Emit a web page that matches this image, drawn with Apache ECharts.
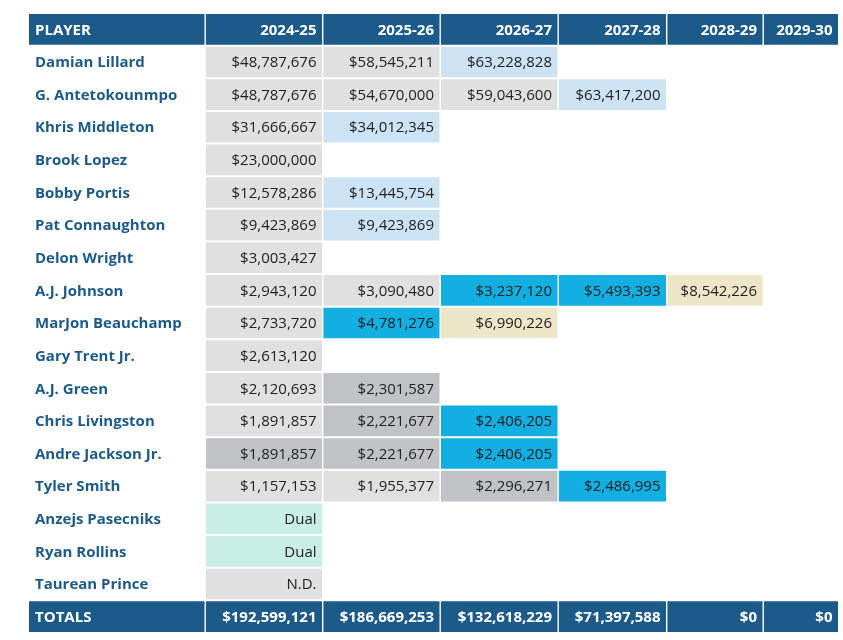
<!DOCTYPE html>
<html>
<head>
<meta charset="utf-8">
<script src="https://cdn.jsdelivr.net/npm/echarts@6/dist/echarts.min.js"></script>
<style>html,body{margin:0;padding:0;background:#fff}#c{width:843px;height:640px}</style>
</head>
<body>
<div id="c"></div>
<script>
// ---------- DATA ----------
var headerFirst = 'PLAYER';
var seasons = ['2024-25', '2025-26', '2026-27', '2027-28', '2028-29', '2029-30'];
var players = ['Damian Lillard', 'G. Antetokounmpo', 'Khris Middleton', 'Brook Lopez', 'Bobby Portis',
  'Pat Connaughton', 'Delon Wright', 'A.J. Johnson', 'MarJon Beauchamp', 'Gary Trent Jr.', 'A.J. Green',
  'Chris Livingston', 'Andre Jackson Jr.', 'Tyler Smith', 'Anzejs Pasecniks', 'Ryan Rollins', 'Taurean Prince'];
var totalsLabel = 'TOTALS';

var sal2024 = [48787676, 48787676, 31666667, 23000000, 12578286, 9423869, 3003427, 2943120, 2733720, 2613120, 2120693, 1891857, 1891857, 1157153, 'Dual', 'Dual', 'N.D.'];
var sal2025 = [58545211, 54670000, 34012345, null, 13445754, 9423869, null, 3090480, 4781276, null, 2301587, 2221677, 2221677, 1955377, null, null, null];
var sal2026 = [63228828, 59043600, null, null, null, null, null, 3237120, 6990226, null, null, 2406205, 2406205, 2296271, null, null, null];
var sal2027 = [null, 63417200, null, null, null, null, null, 5493393, null, null, null, null, null, 2486995, null, null, null];
var sal2028 = [null, null, null, null, null, null, null, 8542226, null, null, null, null, null, null, null, null, null];
var sal2029 = [null, null, null, null, null, null, null, null, null, null, null, null, null, null, null, null, null];

// contract status codes: g guaranteed, n non-guaranteed, p player option, r rookie scale/QO, t team option, d two-way
var st2024 = ['g','g','g','g','g','g','g','g','g','g','g','g','n','g','d','d','g'];
var st2025 = ['g','g','p',null,'p','p',null,'g','r',null,'n','n','n','g',null,null,null];
var st2026 = ['p','g',null,null,null,null,null,'r','t',null,null,'r','r','n',null,null,null];
var st2027 = [null,'p',null,null,null,null,null,'r',null,null,null,null,null,'r',null,null,null];
var st2028 = [null,null,null,null,null,null,null,'t',null,null,null,null,null,null,null,null,null];
var st2029 = [null,null,null,null,null,null,null,null,null,null,null,null,null,null,null,null,null];

var totals = [192599121, 186669253, 132618229, 71397588, 0, 0];

// ---------- LAYOUT / STYLE ----------
var colWidths = [175.5, 117.5, 117.5, 118, 108.5, 96.5, 75.5];
var edges = [0];
colWidths.forEach(function (w) { edges.push(edges[edges.length - 1] + w); });
var GAP = 1.4;
var NAVY = '#1c5a8a';
var statusColor = { g: '#dfe0df', n: '#c1c2c5', p: '#cde3f3', r: '#13afe2', t: '#eee6c8', d: '#c9efe5' };
var FONT = '"Open Sans", "DejaVu Sans", sans-serif';

var salCols = [sal2024, sal2025, sal2026, sal2027, sal2028, sal2029];
var stCols = [st2024, st2025, st2026, st2027, st2028, st2029];

function fmt(v) { return typeof v === 'number' ? '$' + v.toLocaleString('en-US') : v; }

var rowsCat = [headerFirst].concat(players).concat([totalsLabel]);
var cells = [];
cells.push([0, 0, headerFirst, 'hdr']);
seasons.forEach(function (s, i) { cells.push([i + 1, 0, s, 'hdr']); });
players.forEach(function (p, r) {
  cells.push([0, r + 1, p, 'name']);
  salCols.forEach(function (col, c) {
    if (col[r] !== null && col[r] !== undefined) {
      cells.push([c + 1, r + 1, fmt(col[r]), stCols[c][r]]);
    }
  });
});
var lastRow = players.length + 1;
cells.push([0, lastRow, totalsLabel, 'hdr']);
totals.forEach(function (t, i) { cells.push([i + 1, lastRow, fmt(t), 'hdr']); });

var chart = echarts.init(document.getElementById('c'), null, { renderer: 'canvas' });
chart.setOption({
  animation: false,
  grid: { left: 29, right: 5, top: 13, bottom: 7, containLabel: false },
  xAxis: { type: 'value', min: 0, max: edges[edges.length - 1], show: false },
  yAxis: { type: 'category', data: rowsCat, inverse: true, show: false },
  series: [{
    type: 'custom',
    silent: true,
    data: cells,
    encode: { x: 0, y: 1 },
    renderItem: function (params, api) {
      var c = api.value(0), r = api.value(1);
      var item = cells[params.dataIndex];
      var text = item[2], kind = item[3];
      var band = api.size([0, 1])[1];
      var cy = api.coord([0, r])[1];
      var x0 = api.coord([edges[c], r])[0] + (c > 0 ? GAP : 0);
      var x1 = api.coord([edges[c + 1], r])[0];
      var y0 = cy - band / 2 + 1;
      var h = band - 2;
      var children = [];
      var fill = null, textFill = '#222', weight = 'normal';
      if (kind === 'hdr') { fill = NAVY; textFill = '#fff'; weight = 'bold'; }
      else if (kind === 'name') { fill = null; textFill = NAVY; weight = 'bold'; }
      else { fill = statusColor[kind]; }
      if (fill) {
        children.push({ type: 'rect', shape: { x: x0, y: y0, width: x1 - x0, height: h }, style: { fill: fill } });
      }
      var left = (c === 0);
      children.push({
        type: 'text',
        style: {
          text: text,
          x: left ? x0 + 6 : x1 - 5.5,
          y: cy + 1,
          align: left ? 'left' : 'right',
          verticalAlign: 'middle',
          fill: textFill,
          font: weight + ' 15px ' + FONT
        }
      });
      return { type: 'group', children: children };
    }
  }]
});
</script>
</body>
</html>
